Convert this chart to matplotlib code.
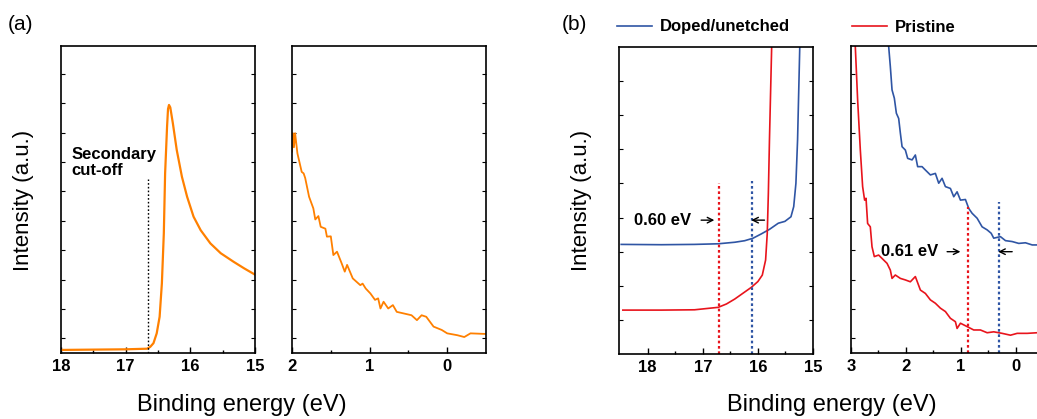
import matplotlib
matplotlib.use("Agg")
import matplotlib.pyplot as plt
import numpy as np

plt.rcParams['font.family'] = ['Liberation Sans', 'DejaVu Sans']

# ---------------- data ----------------
# (a) left: secondary electron cut-off
a_sec_E = [18.0, 17.5, 17.0, 16.67, 16.62, 16.57, 16.52, 16.475, 16.44, 16.41, 16.39,
           16.36, 16.345, 16.33, 16.31, 16.27, 16.21, 16.13, 16.05, 15.95, 15.84, 15.69,
           15.53, 15.33, 15.17, 14.99]
a_sec_I = [0.010, 0.011, 0.012, 0.014, 0.020, 0.032, 0.064, 0.118, 0.227, 0.390, 0.585,
           0.737, 0.795, 0.808, 0.800, 0.748, 0.661, 0.574, 0.509, 0.444, 0.400, 0.357,
           0.325, 0.297, 0.276, 0.254]
a_cutoff = 16.65

# (a) right: valence band edge
a_vb_E = [2.0, 1.99, 1.975, 1.96, 1.93, 1.875, 1.85, 1.83, 1.78, 1.725, 1.70, 1.66,
          1.63, 1.57, 1.55, 1.50, 1.467, 1.42, 1.36, 1.32, 1.29, 1.217, 1.12, 1.09,
          1.05, 0.99, 0.93, 0.89, 0.86, 0.82, 0.76, 0.70, 0.65, 0.563, 0.46, 0.39,
          0.33, 0.27, 0.176, 0.07, 0.0, -0.13, -0.22, -0.30, -0.5]
a_vb_I = [0.656, 0.716, 0.670, 0.716, 0.650, 0.590, 0.585, 0.570, 0.509, 0.471, 0.435,
          0.446, 0.411, 0.405, 0.379, 0.380, 0.319, 0.330, 0.292, 0.265, 0.287, 0.243,
          0.221, 0.226, 0.210, 0.194, 0.173, 0.178, 0.145, 0.167, 0.145, 0.156, 0.134,
          0.129, 0.123, 0.107, 0.123, 0.118, 0.086, 0.075, 0.064, 0.058, 0.052, 0.064,
          0.062]

# (b) left: cut-off region
b_sec_E_blue = [18.48, 17.75, 17.15, 16.72, 16.42, 16.24, 16.09, 15.94, 15.79, 15.63,
                15.51, 15.40, 15.35, 15.31, 15.28, 15.26, 15.24]
b_sec_I_blue = [0.357, 0.356, 0.357, 0.359, 0.364, 0.369, 0.377, 0.391, 0.406, 0.426,
                0.432, 0.447, 0.480, 0.556, 0.697, 0.849, 1.0]
b_sec_E_red = [18.45, 17.75, 17.15, 16.72, 16.57, 16.42, 16.27, 16.12, 16.0, 15.92,
               15.86, 15.83, 15.81, 15.79, 15.77, 15.75]
b_sec_I_red = [0.143, 0.143, 0.144, 0.152, 0.163, 0.179, 0.198, 0.217, 0.236, 0.257,
               0.306, 0.393, 0.523, 0.697, 0.849, 1.0]
b_cut_red, b_cut_blue = 16.705, 16.10

# (b) right: valence band region
b_vb_E_blue = [2.314, 2.283, 2.252, 2.21, 2.173, 2.131, 2.10, 2.069, 2.009, 1.967, 1.887,
               1.827, 1.785, 1.705, 1.644, 1.553, 1.462, 1.401, 1.34, 1.279, 1.188,
               1.127, 1.066, 1.005, 0.914, 0.854, 0.792, 0.701, 0.61, 0.518, 0.445,
               0.398, 0.276, 0.184, 0.062, -0.058, -0.18, -0.303, -0.423]
b_vb_I_blue = [1.0, 0.933, 0.857, 0.830, 0.781, 0.764, 0.716, 0.672, 0.661, 0.634, 0.629,
               0.645, 0.607, 0.607, 0.596, 0.580, 0.585, 0.553, 0.569, 0.542, 0.536,
               0.509, 0.525, 0.498, 0.500, 0.471, 0.455, 0.439, 0.411, 0.401, 0.390,
               0.374, 0.379, 0.366, 0.363, 0.357, 0.359, 0.352, 0.352]
b_vb_E_red = [2.922, 2.879, 2.83, 2.788, 2.752, 2.726, 2.697, 2.648, 2.617, 2.575, 2.496,
              2.434, 2.343, 2.283, 2.252, 2.192, 2.10, 2.009, 1.918, 1.827, 1.735, 1.644,
              1.553, 1.462, 1.37, 1.279, 1.188, 1.097, 1.066, 1.005, 0.883, 0.763, 0.641,
              0.518, 0.398, 0.245, 0.093, -0.029, -0.212, -0.394]
b_vb_I_red = [1.0, 0.824, 0.661, 0.542, 0.498, 0.504, 0.422, 0.411, 0.346, 0.314, 0.319,
              0.308, 0.292, 0.270, 0.243, 0.254, 0.243, 0.238, 0.232, 0.249, 0.205, 0.194,
              0.173, 0.162, 0.146, 0.135, 0.113, 0.102, 0.080, 0.097, 0.086, 0.075, 0.075,
              0.066, 0.069, 0.064, 0.058, 0.064, 0.064, 0.066]
b_vb_red, b_vb_blue = 0.865, 0.297

labels = ["Doped/unetched", "Pristine"]

ORANGE = "#FF8000"
BLUE = "#2F55A4"
RED = "#E8141C"

# ---------------- figure ----------------
W, H = 1037, 419
fig = plt.figure(figsize=(W / 100, H / 100), dpi=100)


def axbox(x0, x1, ytop, ybot):
    return [x0 / W, (H - ybot) / H, (x1 - x0) / W, (ybot - ytop) / H]


ax1 = fig.add_axes(axbox(61, 255, 46, 353))
ax2 = fig.add_axes(axbox(292, 486, 46, 353))
ax3 = fig.add_axes(axbox(619, 813, 47, 354))
ax4 = fig.add_axes(axbox(851, 1043, 46, 353))

for ax in (ax1, ax2, ax3, ax4):
    ax.set_ylim(0, 1)
    for s in ax.spines.values():
        s.set_linewidth(1.2)
    ax.tick_params(axis='x', which='major', direction='in', length=4, width=1, pad=4)
    ax.tick_params(axis='x', which='minor', direction='in', length=2.5, width=1)
    ax.tick_params(axis='y', which='both', direction='in', length=3, width=0.8,
                   left=True, right=True, labelleft=False)

ytA = np.arange(0.048, 1.0, 0.0957)
for ax in (ax1, ax2, ax4):
    ax.set_yticks(ytA)
ax3.set_yticks(np.arange(1, 9) / 9.0)

# (a) left
ax1.plot(a_sec_E, a_sec_I, color=ORANGE, lw=1.6)
ax1.plot([a_cutoff, a_cutoff], [0, 0.566], color='black', lw=1.0, ls=(0, (1.2, 1.5)))
ax1.set_xlim(18, 15)
ax1.set_xticks([18, 17, 16, 15])
ax1.set_xticks([17.5, 16.5, 15.5], minor=True)
ax1.text(17.84, 0.671, "Secondary\ncut-off", fontsize=12, fontweight='bold',
         va='top', ha='left', linespacing=1.05)

# (a) right
ax2.plot(a_vb_E, a_vb_I, color=ORANGE, lw=1.3)
ax2.set_xlim(2, -0.5)
ax2.set_xticks([2, 1, 0])
ax2.set_xticks([1.5, 0.5], minor=True)

# (b) left
lb, = ax3.plot(b_sec_E_blue, b_sec_I_blue, color=BLUE, lw=1.2)
lr, = ax3.plot(b_sec_E_red, b_sec_I_red, color=RED, lw=1.2)
ax3.plot([b_cut_red] * 2, [0, 0.558], color=RED, lw=1.6, ls=(0, (1.2, 1.2)))
ax3.plot([b_cut_blue] * 2, [0, 0.563], color=BLUE, lw=1.6, ls=(0, (1.2, 1.2)))
ax3.set_xlim(18.52, 15)
ax3.set_xticks([18, 17, 16, 15])
ax3.set_xticks([17.5, 16.5, 15.5], minor=True)
ax3.text(18.25, 0.436, "0.60 eV", fontsize=12, fontweight='bold', va='center', ha='left')
arrow = dict(arrowstyle='->', color='black', lw=1.0, shrinkA=0, shrinkB=0)
ax3.annotate("", xy=(16.79, 0.436), xytext=(17.03, 0.436), arrowprops=arrow)
ax3.annotate("", xy=(16.12, 0.436), xytext=(15.88, 0.436), arrowprops=arrow)

# (b) right
ax4.plot(b_vb_E_blue, b_vb_I_blue, color=BLUE, lw=1.2)
ax4.plot(b_vb_E_red, b_vb_I_red, color=RED, lw=1.2)
ax4.plot([b_vb_red] * 2, [0, 0.477], color=RED, lw=1.6, ls=(0, (1.2, 1.2)))
ax4.plot([b_vb_blue] * 2, [0, 0.493], color=BLUE, lw=1.6, ls=(0, (1.2, 1.2)))
ax4.set_xlim(3, -0.5)
ax4.set_xticks([3, 2, 1, 0])
ax4.set_xticks([2.5, 1.5, 0.5], minor=True)
ax4.text(2.447, 0.33, "0.61 eV", fontsize=12, fontweight='bold', va='center', ha='left')
ax4.annotate("", xy=(1.005, 0.33), xytext=(1.248, 0.33), arrowprops=arrow)
ax4.annotate("", xy=(0.317, 0.33), xytext=(0.062, 0.33), arrowprops=arrow)

for ax in (ax1, ax2, ax3, ax4):
    for lab in ax.get_xticklabels():
        lab.set_fontsize(12)
        lab.set_fontweight('bold')

# panel labels, axis labels
fig.text(8 / W, 1 - 25 / H, "(a)", fontsize=15, va='center', ha='left')
fig.text(562 / W, 1 - 25 / H, "(b)", fontsize=15, va='center', ha='left')
fig.text(23 / W, 1 - 200 / H, "Intensity (a.u.)", fontsize=16, rotation=90,
         va='center', ha='center')
fig.text(581 / W, 1 - 200 / H, "Intensity (a.u.)", fontsize=16, rotation=90,
         va='center', ha='center')
fig.text(241.5 / W, 1 - 405 / H, "Binding energy (eV)", fontsize=17, va='center', ha='center')
fig.text(831.5 / W, 1 - 405 / H, "Binding energy (eV)", fontsize=17, va='center', ha='center')

# legends
legkw = dict(frameon=False, borderpad=0, borderaxespad=0, handlelength=2.1,
             handletextpad=0.45, loc='center left',
             prop=dict(size=12, weight='bold'))
fig.legend([lb], [labels[0]], bbox_to_anchor=(617 / W, 1 - 27 / H), **legkw)
fig.legend([lr], [labels[1]], bbox_to_anchor=(852 / W, 1 - 27 / H), **legkw)

fig.savefig("out.png", dpi=100)
